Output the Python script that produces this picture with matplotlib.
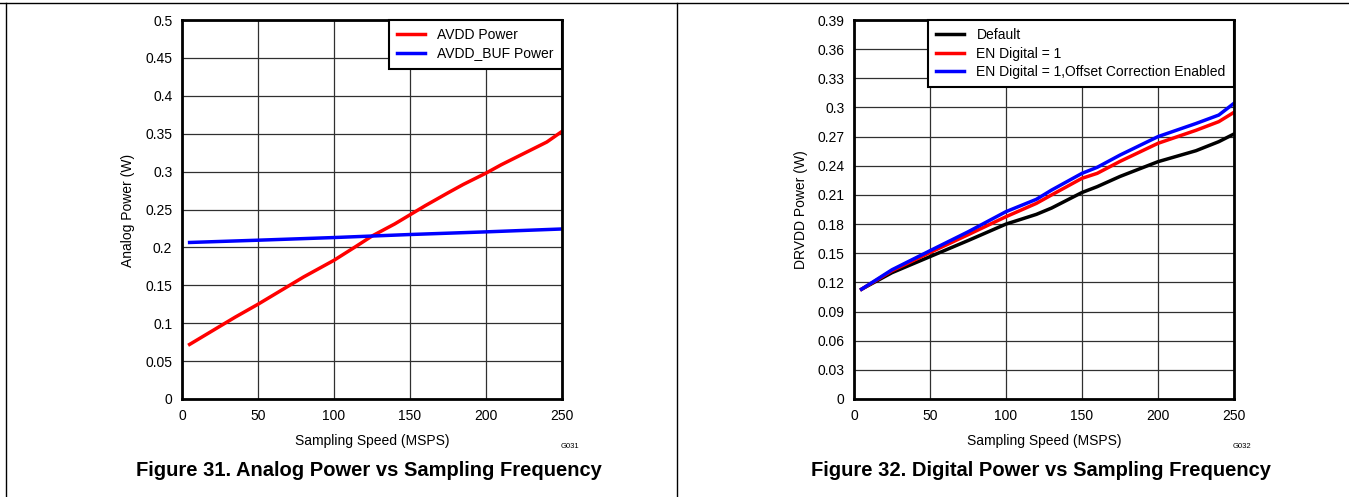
import numpy as np
import matplotlib.pyplot as plt
from matplotlib.lines import Line2D
from matplotlib.ticker import FuncFormatter

plt.rcParams['font.family'] = ['Liberation Sans', 'DejaVu Sans']

# --- Figure 31 data (Analog power) ---
avdd_x = [5, 20, 35, 50, 65, 80, 100, 115, 125, 140, 150, 160, 175, 185, 200, 210, 225, 240, 250]
avdd_y = [0.072, 0.090, 0.108, 0.125, 0.143, 0.161, 0.183, 0.202, 0.215, 0.231, 0.243,
          0.255, 0.272, 0.283, 0.298, 0.309, 0.324, 0.339, 0.353]
buf_x = [5, 50, 100, 150, 200, 250]
buf_y = [0.2065, 0.2095, 0.213, 0.217, 0.2205, 0.2243]

# --- Figure 32 data (Digital power) ---
dig_x = [5, 25, 50, 75, 100, 120, 130, 150, 160, 175, 200, 225, 240, 250]
default_y = [0.113, 0.130, 0.1465, 0.163, 0.180, 0.190, 0.1965, 0.2125, 0.2185, 0.229,
             0.2442, 0.2555, 0.2648, 0.2727]
en_dig_y = [0.113, 0.132, 0.1507, 0.169, 0.1876, 0.2013, 0.210, 0.2271, 0.2322, 0.2445,
            0.2631, 0.2765, 0.2854, 0.295]
offset_y = [0.113, 0.133, 0.1526, 0.172, 0.1928, 0.2055, 0.215, 0.2322, 0.2384, 0.251,
            0.270, 0.2835, 0.2922, 0.3043]

W, H = 1349, 497
fig = plt.figure(figsize=(W / 100, H / 100), dpi=100)


def fx(px):
    return px / W


def fy(py):
    return 1 - py / H


# panel frame lines
fig.add_artist(Line2D([fx(0), fx(W)], [fy(2.5), fy(2.5)], color='black', lw=1))
fig.add_artist(Line2D([fx(6), fx(6)], [fy(2.5), fy(H)], color='black', lw=1))
fig.add_artist(Line2D([fx(677), fx(677)], [fy(2.5), fy(H)], color='black', lw=1))


def style_axes(ax, xmax, ymax, ystep):
    ax.set_xlim(0, xmax)
    ax.set_ylim(0, ymax)
    ax.set_xticks(np.arange(0, xmax + 1, 50))
    ax.set_yticks(np.round(np.arange(0, ymax + ystep / 2, ystep), 2))
    ax.yaxis.set_major_formatter(FuncFormatter(lambda v, p: f'{v:g}'))
    ax.grid(True, color='#303030', lw=0.9)
    ax.set_axisbelow(True)
    ax.tick_params(length=0, labelsize=10, pad=7)
    for s in ax.spines.values():
        s.set_linewidth(2)
        s.set_color('black')


def legend(ax):
    leg = ax.legend(loc='upper right', borderaxespad=0, fontsize=10, fancybox=False,
                    framealpha=1, edgecolor='black', handlelength=2.0,
                    handletextpad=0.9, labelspacing=0.3, borderpad=0.6)
    leg.get_frame().set_linewidth(1.5)


# --- Figure 31 ---
ax1 = fig.add_axes([fx(182), fy(399), fx(380), 379 / H])
ax1.plot(avdd_x, avdd_y, color='#ff0000', lw=2.5, label='AVDD Power')
ax1.plot(buf_x, buf_y, color='#0000ff', lw=2.5, label='AVDD_BUF Power')
style_axes(ax1, 250, 0.5, 0.05)
legend(ax1)
fig.text(fx(128), fy(210), 'Analog Power (W)', rotation=90, ha='center', va='center', fontsize=10)
fig.text(fx(372), fy(441), 'Sampling Speed (MSPS)', ha='center', va='center', fontsize=10)
fig.text(fx(570), fy(446), 'G031', ha='center', va='center', fontsize=5.5)
fig.text(fx(369), fy(470), 'Figure 31. Analog Power vs Sampling Frequency',
         ha='center', va='center', fontsize=14.5, fontweight='bold')

# --- Figure 32 ---
ax2 = fig.add_axes([fx(854), fy(399), fx(380), 379 / H])
ax2.plot(dig_x, default_y, color='black', lw=2.5, label='Default')
ax2.plot(dig_x, en_dig_y, color='#ff0000', lw=2.5, label='EN Digital = 1')
ax2.plot(dig_x, offset_y, color='#0000ff', lw=2.5, label='EN Digital = 1,Offset Correction Enabled')
style_axes(ax2, 250, 0.39, 0.03)
legend(ax2)
fig.text(fx(801), fy(210), 'DRVDD Power (W)', rotation=90, ha='center', va='center', fontsize=10)
fig.text(fx(1044), fy(441), 'Sampling Speed (MSPS)', ha='center', va='center', fontsize=10)
fig.text(fx(1242), fy(446), 'G032', ha='center', va='center', fontsize=5.5)
fig.text(fx(1041), fy(470), 'Figure 32. Digital Power vs Sampling Frequency',
         ha='center', va='center', fontsize=14.5, fontweight='bold')

fig.savefig('out.png', dpi=100)
